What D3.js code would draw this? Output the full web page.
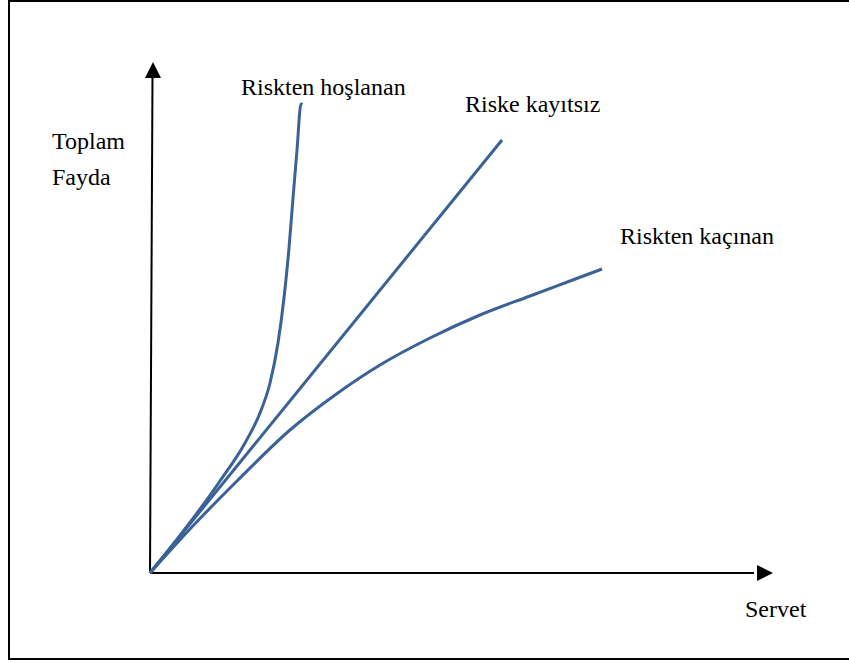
<!DOCTYPE html>
<html><head><meta charset="utf-8">
<script src="https://cdn.jsdelivr.net/npm/d3@7"></script>
<style>body{margin:0;background:#fff}svg{display:block}text{font-family:"Liberation Serif","Times New Roman",serif;fill:#000}</style>
</head><body>
<svg id="c" width="849" height="663"></svg>
<script>
// Data (Servet -> Toplam Fayda, arbitrary units)
const riskLoving = [[0,0],[35,44],[70,92],[95,130],[110,160],[120,190],[128,230],[134,275],[139,325],[143,375],[147,423],[151,469],[152.5,468.5]];
const riskNeutral = [[0,0],[352,433]];
const riskAverse = [[0,0],[40,44],[88,93],[140,143],[185,178],[230,208],[280,235],[330,258],[380,277],[420,292],[452,304]];
const seriesLabels = ["Riskten hoşlanan","Riske kayıtsız","Riskten kaçınan"];
const axisLabels = {x:"Servet", y:["Toplam","Fayda"]};

const svg = d3.select("#c");
const x = d3.scaleLinear().domain([0,620]).range([150,770]);
const y = d3.scaleLinear().domain([0,510]).range([573,63]);

// frame
svg.append("rect").attr("x",9).attr("y",1).attr("width",850).attr("height",658)
  .attr("fill","none").attr("stroke","#000").attr("stroke-width",2);

// axes
svg.append("line").attr("x1",x(0)).attr("y1",y(0)).attr("x2",x(618)-14).attr("y2",y(0))
  .attr("stroke","#000").attr("stroke-width",2);
svg.append("path").attr("d",`M${x(623)},${y(0)} L${x(623)-16},${y(0)-8} L${x(623)-16},${y(0)+8}Z`).attr("fill","#000");
svg.append("line").attr("x1",x(0)).attr("y1",y(0)).attr("x2",x(0)+2.5).attr("y2",y(511)+14)
  .attr("stroke","#000").attr("stroke-width",2);
svg.append("path").attr("d",`M${x(0)+3},${y(511)} L${x(0)-5},${y(511)+16} L${x(0)+11},${y(511)+16}Z`).attr("fill","#000");

const line = d3.line().x(d=>x(d[0])).y(d=>y(d[1])).curve(d3.curveMonotoneX);
[riskLoving, riskNeutral, riskAverse].forEach(s=>{
  svg.append("path").attr("d",line(s)).attr("fill","none")
    .attr("stroke","#3a6296").attr("stroke-width",3).attr("stroke-linecap","butt").attr("stroke-linejoin","round");
});

const fs = "24px";
svg.append("text").attr("x",241).attr("y",95).style("font-size",fs).text(seriesLabels[0]);
svg.append("text").attr("x",465).attr("y",112).style("font-size",fs).text(seriesLabels[1]);
svg.append("text").attr("x",620).attr("y",244).style("font-size",fs).text(seriesLabels[2]);
svg.append("text").attr("x",745).attr("y",617).style("font-size",fs).text(axisLabels.x);
svg.append("text").attr("x",52).attr("y",149).style("font-size",fs).text(axisLabels.y[0]);
svg.append("text").attr("x",52).attr("y",185).style("font-size",fs).text(axisLabels.y[1]);
</script>
</body></html>
